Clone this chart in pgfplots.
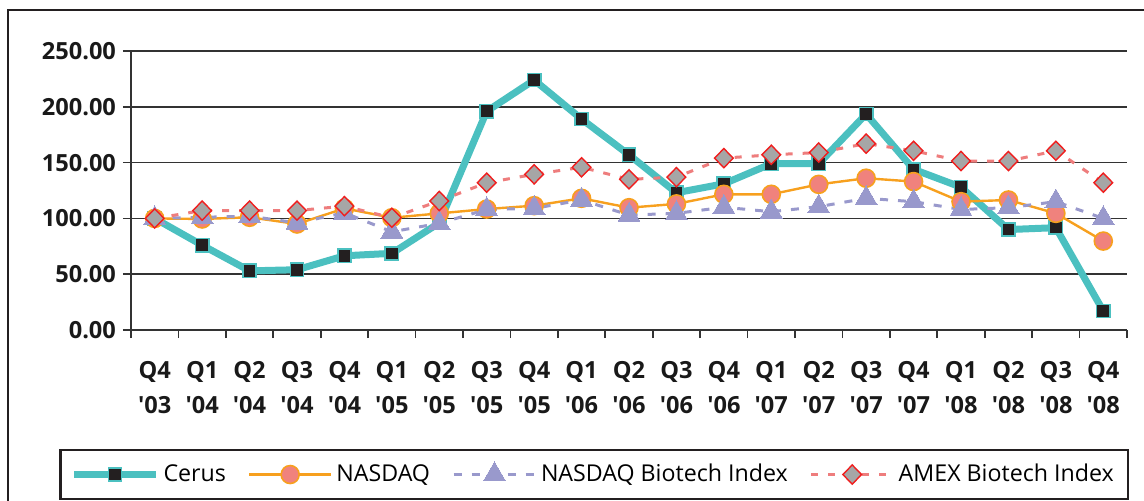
\documentclass[border=0pt]{standalone}
\usepackage{pgfplots}
\pgfplotsset{compat=1.18}
\usepackage{fontspec}
\setmainfont{Open Sans}
\definecolor{cteal}{RGB}{75,192,192}
\definecolor{corange}{RGB}{247,160,30}
\definecolor{csalmon}{RGB}{240,130,125}
\definecolor{clav}{RGB}{153,153,204}
\definecolor{cpink}{RGB}{238,125,125}
\definecolor{cgray}{RGB}{166,166,166}
\definecolor{cred}{RGB}{240,30,30}
\definecolor{cblk}{RGB}{35,31,32}
\begin{document}
\begin{tikzpicture}
\useasboundingbox (0pt,0pt) rectangle (572pt,250pt);
\draw[line width=1.2pt,cblk] (4pt,245pt) rectangle (580pt,-10pt);
\begin{axis}[
  at={(65.5pt,85pt)}, anchor=south west,
  scale only axis, width=498pt, height=139.5pt,
  xmin=-0.5, xmax=20.5, ymin=0, ymax=250,
  axis x line*=bottom, axis y line*=left,
  axis line style={line width=0.8pt, black!80},
  xtick={0,...,20},
  xticklabels={{Q4\\\textquotesingle03},{Q1\\\textquotesingle04},{Q2\\\textquotesingle04},{Q3\\\textquotesingle04},{Q4\\\textquotesingle04},{Q1\\\textquotesingle05},{Q2\\\textquotesingle05},{Q3\\\textquotesingle05},{Q4\\\textquotesingle05},{Q1\\\textquotesingle06},{Q2\\\textquotesingle06},{Q3\\\textquotesingle06},{Q4\\\textquotesingle06},{Q1\\\textquotesingle07},{Q2\\\textquotesingle07},{Q3\\\textquotesingle07},{Q4\\\textquotesingle07},{Q1\\\textquotesingle08},{Q2\\\textquotesingle08},{Q3\\\textquotesingle08},{Q4\\\textquotesingle08}},
  major x tick style={draw=none},
  minor xtick={-0.5,0.5,...,20.5},
  minor tick length=4pt,
  minor x tick style={line width=0.8pt, black!80},
  ytick={0,50,...,250},
  tick align=outside,
  major tick length=4pt,
  major y tick style={line width=0.8pt, black!80},
  ymajorgrids,
  grid style={line width=0.8pt, black!80},
  yticklabel style={/pgf/number format/fixed, /pgf/number format/fixed zerofill, /pgf/number format/precision=2, /pgf/number format/assume math mode=true},
  yticklabel style={font=\fontsize{11.8}{14}\selectfont\bfseries, black!90},
  xticklabel style={font=\fontsize{11.8}{17.5}\selectfont\bfseries, black!90, align=center, yshift=-8pt},
  legend columns=4,
  legend style={at={(0.465,-0.518)}, anchor=center, draw=cblk, line width=1.2pt,
    font=\fontsize{11.6}{13}\selectfont, inner xsep=5pt, inner ysep=5pt,
    /tikz/every even column/.append style={column sep=9pt}},
  legend image code/.code={\draw[mark repeat=2,mark phase=2] plot coordinates {(0pt,0pt) (20.5pt,0pt) (41pt,0pt)};},
  clip=false,
]
\addplot[cteal, line width=3.5pt, mark=square*, mark size=3.3pt,
  mark options={fill=cblk, draw=cteal, line width=0.8pt, solid}]
  coordinates {(0,100) (1,76) (2,53) (3,54) (4,66.5) (5,68.7) (6,96) (7,196) (8,224) (9,189) (10,157) (11,123) (12,131) (13,149) (14,149) (15,193.5) (16,144) (17,128) (18,90) (19,91.7) (20,17)};
\addlegendentry{Cerus}
\addplot[corange, line width=1.2pt, mark=*, mark size=4.5pt,
  mark options={fill=csalmon, draw=corange, line width=0.8pt, solid}]
  coordinates {(0,100) (1,99.5) (2,101) (3,95) (4,109) (5,100.6) (6,104.5) (7,108.4) (8,111.4) (9,118) (10,109.6) (11,113) (12,121.6) (13,121.6) (14,130.5) (15,136) (16,133) (17,115) (18,116.5) (19,104.5) (20,79.7)};
\addlegendentry{NASDAQ}
\addplot[clav, line width=1.5pt, dash pattern=on 4pt off 5pt, mark=triangle*, mark size=6.3pt,
  mark options={fill=clav, draw=clav, solid, line width=0pt}]
  coordinates {(0,100) (1,101) (2,102) (3,96) (4,105) (5,88) (6,95.6) (7,108) (8,109) (9,116.5) (10,103) (11,104.5) (12,110) (13,106) (14,110.5) (15,118) (16,115) (17,108) (18,109.6) (19,115) (20,100)};
\addlegendentry{NASDAQ Biotech Index}
\addplot[cpink, line width=1.5pt, dash pattern=on 3.5pt off 5pt, mark=diamond*, mark size=4.8pt,
  mark options={fill=cgray, draw=cred, solid, line width=0.7pt, xscale=1.3}]
  coordinates {(0,100) (1,107) (2,107) (3,107) (4,111) (5,100.6) (6,115.6) (7,132) (8,139.5) (9,145.8) (10,135) (11,137) (12,154) (13,157) (14,159) (15,167) (16,160.6) (17,151.4) (18,151.4) (19,160.6) (20,132)};
\addlegendentry{AMEX Biotech Index}
\end{axis}
\end{tikzpicture}
\end{document}
